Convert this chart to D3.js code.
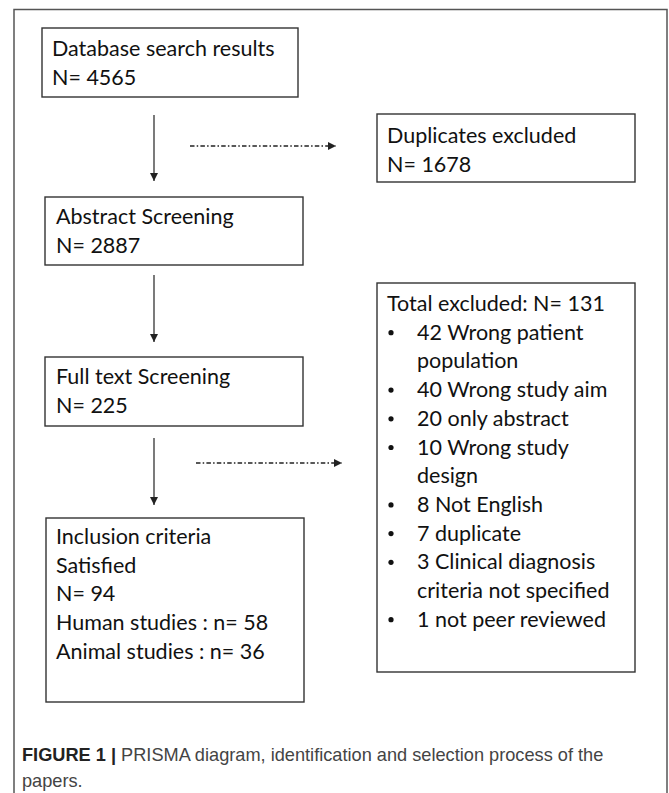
<!DOCTYPE html>
<html>
<head>
<meta charset="utf-8">
<script src="https://cdn.jsdelivr.net/npm/d3@7"></script>
<style>
  body { margin: 0; background: #fff; }
</style>
</head>
<body>
<div id="chart"></div>
<script>
// PRISMA flow counts
const stageTitles = ["Database search results", "Abstract Screening", "Full text Screening"];
const stageCounts = [4565, 2887, 225];
const includedTitle = ["Inclusion criteria", "Satisfied"];
const includedCount = 94;
const includedSplit = [["Human studies", 58], ["Animal studies", 36]];
const duplicatesExcluded = 1678;
const totalExcluded = 131;
const exclusionCounts = [42, 40, 20, 10, 8, 7, 3, 1];
const exclusionReasons = [
  ["Wrong patient", "population"],
  ["Wrong study aim"],
  ["only abstract"],
  ["Wrong study", "design"],
  ["Not English"],
  ["duplicate"],
  ["Clinical diagnosis", "criteria not specified"],
  ["not peer reviewed"]
];
const captionBold = "FIGURE 1 |";
const captionLines = [" PRISMA diagram, identification and selection process of the", "papers."];

const W = 669, H = 793;
const boxFont = "Lato, 'Open Sans', sans-serif";
const boxSize = "21.5px";
const ink = "#222";
const lineH = 28.7;

const svg = d3.select("#chart").append("svg")
  .attr("width", W).attr("height", H);

const defs = svg.append("defs");
defs.append("marker")
  .attr("id", "head")
  .attr("viewBox", "0 0 10 10")
  .attr("refX", 10).attr("refY", 5)
  .attr("markerWidth", 8).attr("markerHeight", 8)
  .attr("markerUnits", "userSpaceOnUse")
  .attr("orient", "auto")
  .append("path").attr("d", "M0,0L10,5L0,10Z").attr("fill", ink);

// outer frame (runs off the bottom)
svg.append("rect")
  .attr("x", 14).attr("y", 9.5).attr("width", 653).attr("height", 820)
  .attr("fill", "none").attr("stroke", "#555").attr("stroke-width", 1.5);

function box(x, y, w, h, lines, tx, ty) {
  svg.append("rect")
    .attr("x", x).attr("y", y).attr("width", w).attr("height", h)
    .attr("fill", "#fff").attr("stroke", "#333").attr("stroke-width", 1.4);
  const t = svg.append("g");
  lines.forEach((s, i) => {
    t.append("text")
      .attr("x", tx).attr("y", ty + i * lineH)
      .style("font-family", boxFont).style("font-size", boxSize)
      .attr("fill", "#111")
      .text(s);
  });
}

function arrow(x1, y1, x2, y2, dashed) {
  svg.append("line")
    .attr("x1", x1).attr("y1", y1).attr("x2", x2).attr("y2", y2)
    .attr("stroke", ink).attr("stroke-width", dashed ? 1.3 : 1.2)
    .attr("stroke-dasharray", dashed ? "4.5,2.2,1.5,2.2" : null)
    .attr("marker-end", "url(#head)");
}

// left column of stages
const stageBoxes = [
  { x: 42, y: 28, w: 256, h: 69, tx: 52, ty: 56 },
  { x: 45, y: 197, w: 258, h: 68, tx: 56, ty: 224 },
  { x: 45, y: 357, w: 258, h: 69, tx: 56, ty: 384 }
];
stageBoxes.forEach((b, i) => {
  box(b.x, b.y, b.w, b.h, [stageTitles[i], "N= " + stageCounts[i]], b.tx, b.ty);
});

const inclLines = includedTitle.concat(
  ["N= " + includedCount],
  includedSplit.map(d => d[0] + " : n= " + d[1])
);
box(46, 518, 258, 184, inclLines, 56, 544);

// down arrows
[[115, 181], [275, 342], [438, 505]].forEach(d => arrow(154, d[0], 154, d[1], false));

// side arrows
arrow(190, 146, 336, 146, true);
arrow(196, 463, 342, 463, true);

// duplicates box
box(377, 114, 258, 68, ["Duplicates excluded", "N= " + duplicatesExcluded], 387, 143);

// exclusions box
svg.append("rect")
  .attr("x", 377).attr("y", 283).attr("width", 258).attr("height", 389)
  .attr("fill", "#fff").attr("stroke", "#333").attr("stroke-width", 1.4);

svg.append("text")
  .attr("x", 387).attr("y", 311)
  .style("font-family", boxFont).style("font-size", boxSize).attr("fill", "#111")
  .text("Total excluded: N= " + totalExcluded);

let row = 1;
exclusionCounts.forEach((c, i) => {
  const y0 = 311 + row * lineH;
  svg.append("circle")
    .attr("cx", 391).attr("cy", y0 - 7).attr("r", 2.6).attr("fill", "#111");
  exclusionReasons[i].forEach((s, j) => {
    svg.append("text")
      .attr("x", 417).attr("y", y0 + j * lineH)
      .style("font-family", boxFont).style("font-size", boxSize).attr("fill", "#111")
      .text(j === 0 ? c + " " + s : s);
  });
  row += exclusionReasons[i].length;
});

// caption
const capFont = "'Liberation Sans', Arial, sans-serif";
const cap = svg.append("text")
  .attr("x", 22).attr("y", 761)
  .style("font-family", capFont)
  .style("font-size", "18.2px").attr("fill", "#444");
cap.append("tspan").style("font-weight", "bold").attr("fill", "#222").text(captionBold);
cap.append("tspan").text(captionLines[0]);

svg.append("text")
  .attr("x", 22).attr("y", 787)
  .style("font-family", capFont)
  .style("font-size", "18.2px").attr("fill", "#444")
  .text(captionLines[1]);
</script>
</body>
</html>
